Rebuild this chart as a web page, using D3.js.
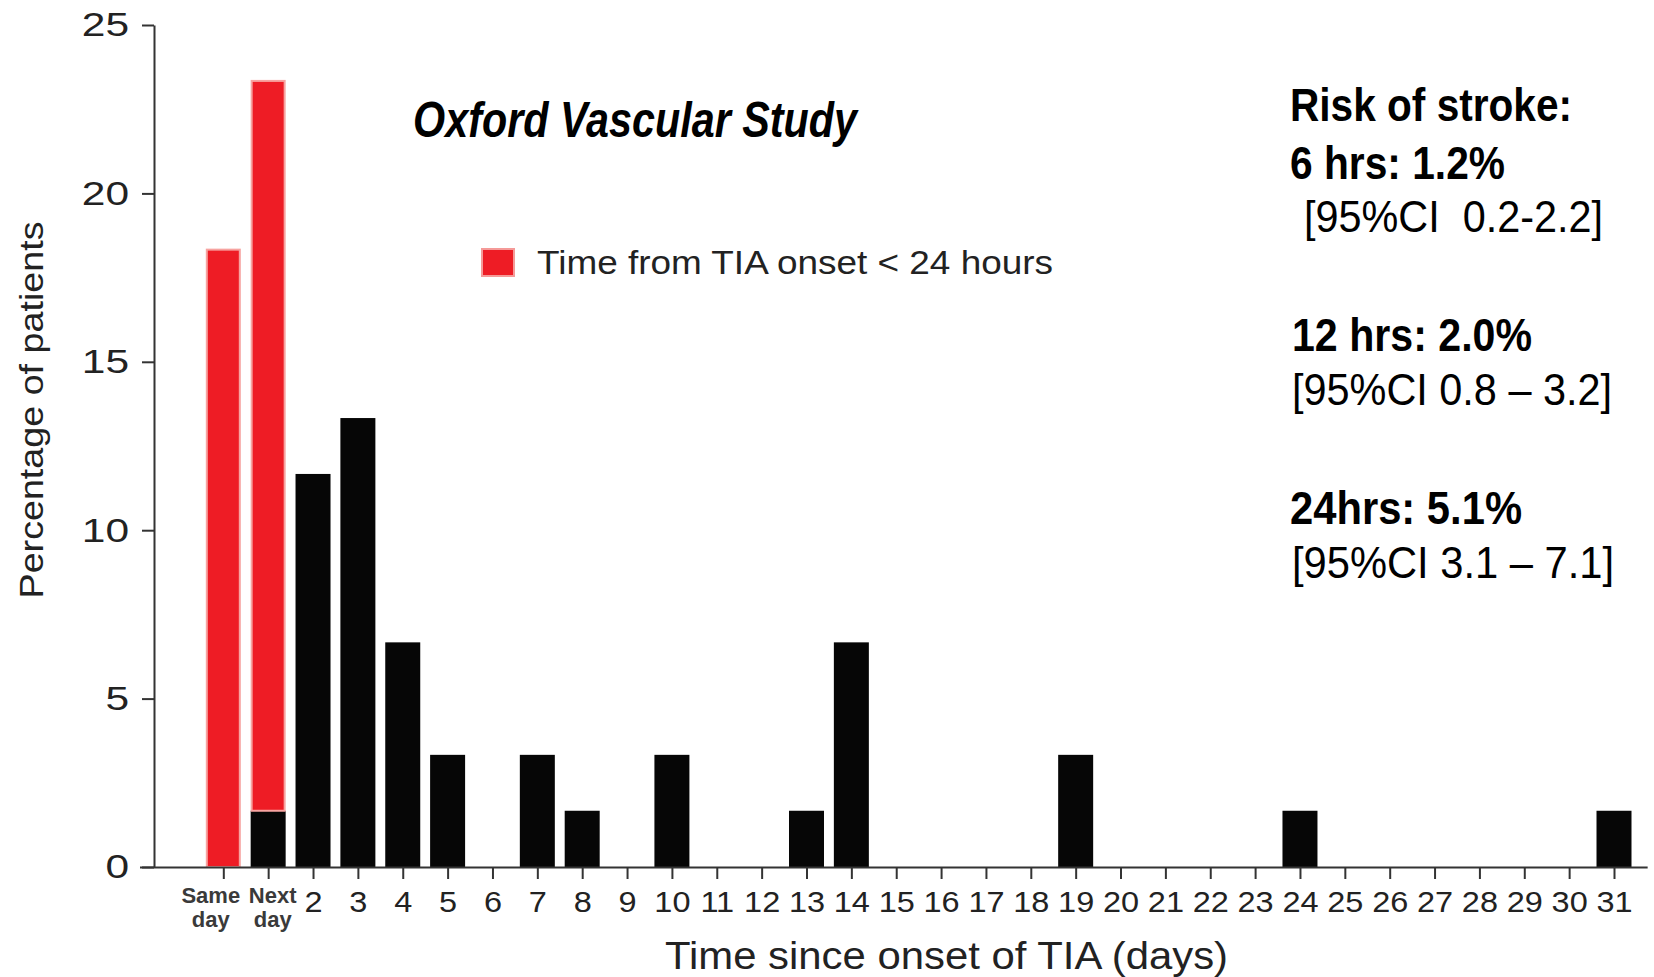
<!DOCTYPE html>
<html>
<head>
<meta charset="utf-8">
<script src="https://cdn.jsdelivr.net/npm/d3@7"></script>
<style>
  body { margin: 0; background: #fff; }
  svg { display: block; }
  .axis text { font-family: "Liberation Sans", Arial, sans-serif; fill: #222; }
  .axis line, .axis path { stroke: #333; stroke-width: 2; }
  .narrow { font-family: "Liberation Sans", Arial, sans-serif; }
</style>
</head>
<body>
<div id="chart"></div>
<script>
// days since TIA onset (first two are named)
const categories = ['Same day', 'Next day'].concat(d3.range(2, 32).map(String))

// percentage of patients, <24h part (red) and the rest (black)
const redValues = [18.33, 21.67, 0, 0, 0, 0, 0, 0, 0, 0, 0, 0, 0, 0, 0, 0,
  0, 0, 0, 0, 0, 0, 0, 0, 0, 0, 0, 0, 0, 0, 0, 0]
const blackValues = [0, 1.67, 11.67, 13.33, 6.67, 3.33, 0, 3.33, 1.67, 0, 3.33, 0, 0, 1.67, 6.67, 0,
  0, 0, 0, 3.33, 0, 0, 0, 0, 1.67, 0, 0, 0, 0, 0, 0, 1.67]

const yTicks = [0, 5, 10, 15, 20, 25]

const titleText = 'Oxford Vascular Study'
const legendText = 'Time from TIA onset < 24 hours'
const xTitle = 'Time since onset of TIA (days)'
const yTitle = 'Percentage of patients'

const riskLines = [
  { text: 'Risk of stroke:', bold: true },
  { text: '6 hrs: 1.2%', bold: true },
  { text: '[95%CI  0.2-2.2]', bold: false },
  { text: '12 hrs: 2.0%', bold: true },
  { text: '[95%CI 0.8 \u2013 3.2]', bold: false },
  { text: '24hrs: 5.1%', bold: true },
  { text: '[95%CI 3.1 \u2013 7.1]', bold: false }
]

const width = 1654
const height = 977
const red = '#ee1c25'
const black = '#060606'

const svg = d3.select('#chart')
  .append('svg')
    .attr('width', width)
    .attr('height', height)

const x = d3.scalePoint()
  .domain(categories)
  .range([223.3, 1614])

const y = d3.scaleLinear()
  .domain([0, 25])
  .range([867, 25])

const step = x.step()
const barW = step * 0.78

const data = categories.map((c, i) => ({ cat: c, red: redValues[i], black: blackValues[i] }))

// black part at the bottom
svg.append('g')
  .selectAll('rect')
  .data(data.filter(d => d.black > 0))
  .enter().append('rect')
    .attr('x', d => x(d.cat) - barW / 2)
    .attr('width', barW)
    .attr('y', d => y(d.black))
    .attr('height', d => y(0) - y(d.black))
    .attr('fill', black)

// red part stacked on top
svg.append('g')
  .selectAll('rect')
  .data(data.filter(d => d.red > 0))
  .enter().append('rect')
    .attr('x', d => x(d.cat) - barW / 2 + 1)
    .attr('width', barW - 2)
    .attr('y', d => y(d.black + d.red))
    .attr('height', d => y(d.black) - y(d.black + d.red))
    .attr('fill', red)
    .attr('stroke', '#f7a3a0')
    .attr('stroke-width', 2)

// y axis
const yAxis = svg.append('g')
  .attr('class', 'axis')
  .attr('transform', 'translate(154,0)')
  .call(d3.axisLeft(y).tickValues(yTicks).tickSize(12).tickSizeOuter(0).tickPadding(8))
yAxis.selectAll('text')
  .style('font-size', '34px')
  .attr('transform', 'scale(1.25,1)')

// x axis
const xAxis = svg.append('g')
  .attr('class', 'axis')
  .attr('transform', `translate(0,${y(0)})`)
  .call(d3.axisBottom(x).tickSize(12).tickSizeOuter(0).tickFormat(''))
xAxis.select('.domain')
  .attr('d', `M${154 - 14},0.5H${x(categories[categories.length - 1]) + step * 0.75}`)

// the two word labels sit a little apart from their ticks
const wordShift = { 'Same day': -13, 'Next day': 4 }

xAxis.selectAll('.tick').each(function (d) {
  const t = d3.select(this).append('text')
    .attr('text-anchor', 'middle')
  if (d.includes(' ')) {
    const parts = d.split(' ')
    const dx = wordShift[d] || 0
    t.style('font-size', '22px').style('font-weight', 'bold').style('fill', '#3a3a3a')
    t.append('tspan').attr('x', dx).attr('y', 36).text(parts[0])
    t.append('tspan').attr('x', dx).attr('y', 60).text(parts[1])
  } else {
    t.style('font-size', '29px')
      .attr('y', 45)
      .attr('transform', 'scale(1.12,1)')
      .text(d)
  }
})

// axis titles
svg.append('text')
  .attr('x', 665)
  .attr('y', 969)
  .attr('textLength', 563)
  .attr('lengthAdjust', 'spacingAndGlyphs')
  .style('font-family', '"Liberation Sans", Arial, sans-serif')
  .style('font-size', '38px')
  .style('fill', '#222')
  .text(xTitle)

svg.append('text')
  .attr('transform', 'translate(43,410) rotate(-90)')
  .attr('text-anchor', 'middle')
  .attr('textLength', 377)
  .attr('lengthAdjust', 'spacingAndGlyphs')
  .style('font-family', '"Liberation Sans", Arial, sans-serif')
  .style('font-size', '33px')
  .style('fill', '#222')
  .text(yTitle)

// legend
svg.append('rect')
  .attr('x', 482)
  .attr('y', 249)
  .attr('width', 32)
  .attr('height', 27)
  .attr('fill', red)
  .attr('stroke', '#f59a98')
  .attr('stroke-width', 2)

svg.append('text')
  .attr('x', 537)
  .attr('y', 274)
  .attr('textLength', 516)
  .attr('lengthAdjust', 'spacingAndGlyphs')
  .style('font-family', '"Liberation Sans", Arial, sans-serif')
  .style('font-size', '34px')
  .style('fill', '#222')
  .text(legendText)

// study title, squeezed like a narrow face
svg.append('text')
  .attr('class', 'narrow')
  .attr('x', 413)
  .attr('y', 137)
  .attr('textLength', 444)
  .attr('lengthAdjust', 'spacingAndGlyphs')
  .style('font-size', '50px')
  .style('font-weight', 'bold')
  .style('font-style', 'italic')
  .text(titleText)

// risk annotations on the right
const riskLayout = [
  { x: 1290, y: 121, w: 282 },
  { x: 1290, y: 179, w: 215 },
  { x: 1304, y: 232, w: 299 },
  { x: 1292, y: 351, w: 240 },
  { x: 1292, y: 405, w: 320 },
  { x: 1290, y: 524, w: 232 },
  { x: 1292, y: 578, w: 322 }
]
svg.append('g')
  .selectAll('text')
  .data(riskLines)
  .enter().append('text')
    .attr('class', 'narrow')
    .attr('x', (d, i) => riskLayout[i].x)
    .attr('y', (d, i) => riskLayout[i].y)
    .attr('textLength', (d, i) => riskLayout[i].w)
    .attr('lengthAdjust', 'spacingAndGlyphs')
    .attr('xml:space', 'preserve')
    .style('white-space', 'pre')
    .style('font-size', d => d.bold ? '46px' : '44px')
    .style('font-weight', d => d.bold ? 'bold' : 'normal')
    .style('fill', '#000')
    .text(d => d.text)
</script>
</body>
</html>
